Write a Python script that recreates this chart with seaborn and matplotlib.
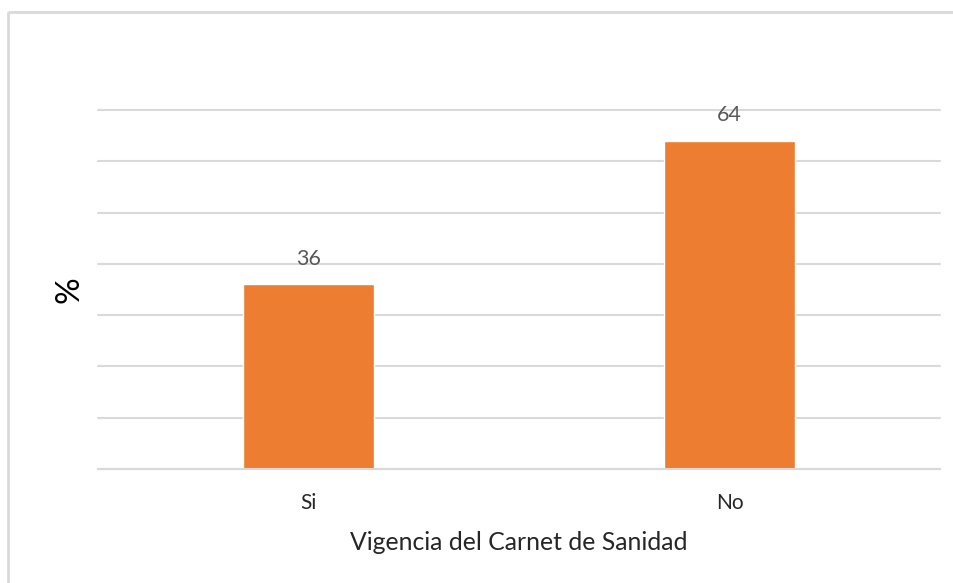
import matplotlib
matplotlib.use("Agg")
import matplotlib.pyplot as plt
import seaborn as sns
import pandas as pd
from matplotlib.lines import Line2D

# ----------------------------------------------------------
# DATOS
# ----------------------------------------------------------

categorias = ["Si", "No"]
porcentajes = [36, 64]

df = pd.DataFrame({"vigencia": categorias, "pct": porcentajes})

# ----------------------------------------------------------
# ESTILO
# ----------------------------------------------------------

sns.set_style("white")
plt.rcParams["font.family"] = ["Lato", "DejaVu Sans"]

fig = plt.figure(figsize=(9.54, 5.83), dpi=100)
fig.patch.set_linewidth(0)
ax = fig.add_axes([98 / 954, 114 / 583, 842 / 954, 359 / 583])

sns.barplot(
    data=df,
    x="vigencia",
    y="pct",
    color="#ED7D31",
    width=0.31,
    saturation=1,
    ax=ax
)

ax.set_ylim(0, 70)
ax.set_xlim(-0.5, 1.5)
ax.set_yticks(range(0, 71, 10))
ax.yaxis.grid(True, color="#D9D9D9", linewidth=1.5)
for linea in ax.get_ygridlines():
    linea.set_clip_on(False)
ax.set_axisbelow(True)
ax.tick_params(axis="y", left=False, labelleft=False)
ax.tick_params(axis="x", bottom=False, labelsize=15, labelcolor="#262626", pad=14)

for lado in ["top", "right", "left"]:
    ax.spines[lado].set_visible(False)
ax.spines["bottom"].set_color("#D9D9D9")
ax.spines["bottom"].set_linewidth(1.5)

# etiquetas de valor
for cont in ax.containers:
    ax.bar_label(cont, fmt="%d", padding=11, fontsize=15.5, color="#595959")

ax.set_xlabel("Vigencia del Carnet de Sanidad", fontsize=17.8, color="#262626", labelpad=13)
ax.set_ylabel("%", fontsize=24, color="black", labelpad=10)

# marco del grafico (solo se ven borde izquierdo y superior)
x0, y0 = 8.5 / 954, 1 - 11.5 / 583
fig.lines.append(Line2D([x0, x0], [0, y0], transform=fig.transFigure,
                        color="#D9D9D9", linewidth=2, solid_capstyle="butt"))
fig.lines.append(Line2D([x0, 1.01], [y0, y0], transform=fig.transFigure,
                        color="#D9D9D9", linewidth=2, solid_capstyle="butt"))

fig.savefig("out.png", dpi=100)
